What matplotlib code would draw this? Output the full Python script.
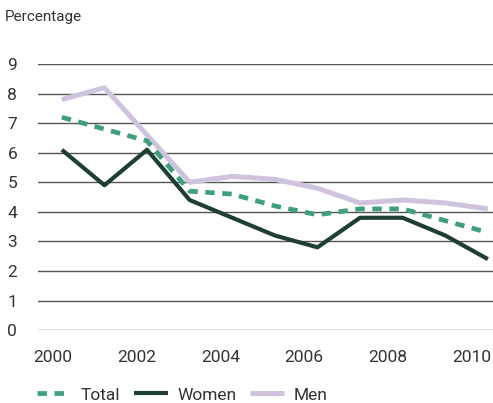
import matplotlib
matplotlib.use("Agg")
import matplotlib.pyplot as plt

years = [2000, 2001, 2002, 2003, 2004, 2005, 2006, 2007, 2008, 2009, 2010]
total = [7.2, 6.8, 6.4, 4.7, 4.6, 4.2, 3.9, 4.1, 4.1, 3.7, 3.3]
women = [6.1, 4.9, 6.1, 4.4, 3.8, 3.2, 2.8, 3.8, 3.8, 3.2, 2.4]
men = [7.8, 8.2, 6.6, 5.0, 5.2, 5.1, 4.8, 4.3, 4.4, 4.3, 4.1]
xticks = [2000, 2002, 2004, 2006, 2008, 2010]
yticks = list(range(0, 10))

plt.rcParams['font.family'] = ['Roboto', 'DejaVu Sans']
txt = '#333333'

fig = plt.figure(figsize=(4.93, 4.03), dpi=100)
ax = fig.add_axes([0.077, 0.181, 0.923, 0.660])

ax.plot(years, men, color='#cfc3dd', lw=3.6, solid_capstyle='butt', label='Men', zorder=3)
ax.plot(years, total, color='#3e9e7e', lw=3.4, dashes=(2.0, 1.6), label='Total', zorder=4)
ax.plot(years, women, color='#1f3f33', lw=3.0, solid_capstyle='butt', label='Women', zorder=5)

ax.set_xlim(1999.44, 2010.12)
ax.set_ylim(0, 9)
ax.set_yticks(yticks)
# x labels in the reference are spaced slightly tighter and sit left of the data points
ax.set_xticks([1999.79 + (x - 2000) * 0.983 for x in xticks])
ax.set_xticklabels([str(x) for x in xticks])
ax.grid(axis='y', color='#555555', lw=1.0)
ax.set_axisbelow(True)
for s in ax.spines.values():
    s.set_visible(False)
ax.tick_params(length=0, labelsize=12.5, colors=txt)
ax.tick_params(axis='x', pad=14)
ax.tick_params(axis='y', pad=22)
for lab in ax.get_yticklabels():
    lab.set_horizontalalignment('left')

fig.text(5/493, 1 - 17/403, 'Percentage', fontsize=11, color=txt, va='center', ha='left')

handles, labels = ax.get_legend_handles_labels()
order = [1, 2, 0]
leg = fig.legend([handles[i] for i in order], [labels[i] for i in order],
                 loc='center left', bbox_to_anchor=(0.075, 0.02), ncol=3, frameon=False,
                 fontsize=12.5, handlelength=1.95, handletextpad=0.55, columnspacing=0.8,
                 borderpad=0, borderaxespad=0)
for t in leg.get_texts():
    t.set_color(txt)

fig.savefig('out.png', dpi=100)
